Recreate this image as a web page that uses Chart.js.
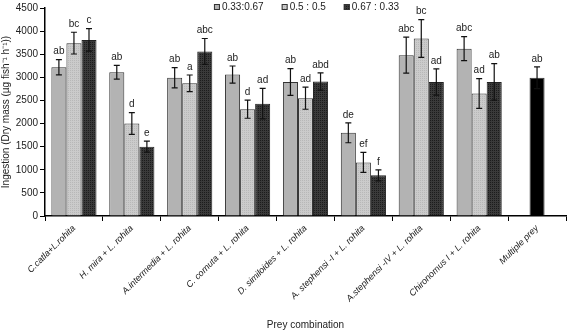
<!DOCTYPE html>
<html><head><meta charset="utf-8">
<script src="https://cdn.jsdelivr.net/npm/chart.js@4/dist/chart.umd.min.js"></script>
<style>html,body{margin:0;padding:0;background:#fff}#wrap{width:567px;height:335px}</style>
</head><body><div id="wrap"><canvas id="c" width="567" height="335"></canvas></div>
<script>
const categories = ["C.catla+L.rohita","H. mira + L. rohita","A.intermedia + L. rohita","C. cornuta + L. rohita","D. similoides + L. rohita","A. stephensi -I + L. rohita","A.stephensi -IV + L. rohita","Chironomus I + L. rohita","Multiple prey"];
const seriesNames = ["0.33:0.67","0.5 : 0.5","0.67 : 0.33"];
const s1 = [3220,3110,2990,3060,2900,1800,3480,3620,null];
const s2 = [3740,2000,2870,2310,2550,1160,3840,2650,2990];
const s3 = [3810,1500,3560,2430,2910,880,2900,2900,null];
const e1 = [165,150,220,185,290,215,390,260,null];
const e2 = [235,235,180,195,240,215,410,320,235];
const e3 = [245,120,280,330,185,120,285,395,null];
const l1 = ["ab","ab","ab","ab","ab","de","abc","abc",""];
const l2 = ["bc","d","a","d","ad","ef","bc","ad","ab"];
const l3 = ["c","e","abc","ad","abd","f","ad","ab",""];
const yTicks = [0,500,1000,1500,2000,2500,3000,3500,4000,4500];

function pattern(base, dots){
  const c=document.createElement('canvas');c.width=4;c.height=4;const g=c.getContext('2d');
  g.fillStyle=base;g.fillRect(0,0,4,4);g.fillStyle=dots;
  g.fillRect(0,0,1,1);g.fillRect(2,2,1,1);g.fillRect(2,0,1,1);g.fillRect(0,2,1,1);
  return g.createPattern(c,'repeat');
}
const cv=document.getElementById('c').getContext('2d');
const c1='#b3b3b3';
const c2=pattern('#cbcbcb','#b8b8b8');
const c3=pattern('#3a3a3a','#1c1c1c');
const bg2=s2.map((v,i)=>i===8?'#000':c2);

const errs=[e1,e2,e3], lets=[l1,l2,l3];
const errPlugin={id:'err',afterDatasetsDraw(chart){
  const ctx=chart.ctx, y=chart.scales.y;
  ctx.save();
  chart.data.datasets.forEach((ds,di)=>{
    const meta=chart.getDatasetMeta(di);
    meta.data.forEach((bar,i)=>{
      const v=ds.data[i]; if(v==null) return;
      const e=errs[di][i];
      const yt=y.getPixelForValue(v+e), yb=y.getPixelForValue(v-e);
      ctx.strokeStyle='#111';ctx.lineWidth=1.2;
      ctx.beginPath();
      ctx.moveTo(bar.x,yt);ctx.lineTo(bar.x,yb);
      ctx.moveTo(bar.x-3,yt);ctx.lineTo(bar.x+3,yt);
      ctx.moveTo(bar.x-3,yb);ctx.lineTo(bar.x+3,yb);
      ctx.stroke();
      ctx.fillStyle='#222';ctx.font='10px "Liberation Sans", Arial';
      ctx.textAlign='center';ctx.textBaseline='bottom';
      ctx.fillText(lets[di][i],bar.x,yt-3);
    });
  });
  ctx.restore();
}};
const legendPlugin={id:'leg',afterDraw(chart){
  const ctx=chart.ctx, a=chart.chartArea;
  ctx.save();ctx.font='10px "Liberation Sans", Arial';ctx.textBaseline='middle';ctx.textAlign='left';
  const fills=[c1,c2,c3], box=6, gap=2, sep=18;
  const widths=seriesNames.map(n=>box+gap+ctx.measureText(n).width);
  const total=widths.reduce((p,c)=>p+c,0)+sep*(widths.length-1);
  let x=(a.left+a.right)/2-total/2+1; const yc=7;
  seriesNames.forEach((n,i)=>{
    ctx.fillStyle=fills[i];ctx.fillRect(x,yc-box/2,box,box);
    ctx.strokeStyle='#333';ctx.lineWidth=1;ctx.strokeRect(x+0.5,yc-box/2+0.5,box-1,box-1);
    ctx.fillStyle='#222';ctx.fillText(n,x+box+gap,yc);
    x+=widths[i]+sep;
  });
  ctx.restore();
}};
new Chart(cv,{type:'bar',
 data:{labels:categories,datasets:[
  {label:seriesNames[0],data:s1,backgroundColor:c1,borderColor:'#333',borderWidth:1},
  {label:seriesNames[1],data:s2,backgroundColor:bg2,borderColor:'#333',borderWidth:1},
  {label:seriesNames[2],data:s3,backgroundColor:c3,borderColor:'#222',borderWidth:1}]},
 options:{responsive:false,animation:false,devicePixelRatio:1,
  layout:{padding:{top:6,right:1,left:0,bottom:0}},
  datasets:{bar:{categoryPercentage:0.78,barPercentage:1.0}},
  plugins:{legend:{display:false},tooltip:{enabled:false}},
  scales:{
   x:{grid:{display:true,drawOnChartArea:false,offset:true,color:'#000',tickLength:5},
      border:{color:'#000',width:1.5},
      ticks:{minRotation:45,maxRotation:45,autoSkip:false,color:'#222',font:{family:'"Liberation Sans", Arial',size:9,style:'italic'},padding:2},
      title:{display:true,text:'Prey combination',color:'#222',font:{family:'"Liberation Sans", Arial',size:10},padding:{top:0,bottom:4}},
      afterFit(s){s.height=119;}},
   y:{min:0,max:4500,
      afterBuildTicks(s){s.ticks=yTicks.map(v=>({value:v}));},
      grid:{display:true,drawOnChartArea:false,color:'#000',tickLength:5},
      border:{color:'#000',width:1.5},
      ticks:{color:'#222',font:{family:'"Liberation Sans", Arial',size:10},padding:2,callback:(v)=>String(v)},
      title:{display:true,text:'Ingestion (Dry mass (µg fish⁻¹ h⁻¹))',color:'#222',font:{family:'"Liberation Sans", Arial',size:10},padding:{top:0,bottom:2}},
      afterFit(s){s.width=45;}}
  }},
 plugins:[errPlugin,legendPlugin]});
</script></body></html>
